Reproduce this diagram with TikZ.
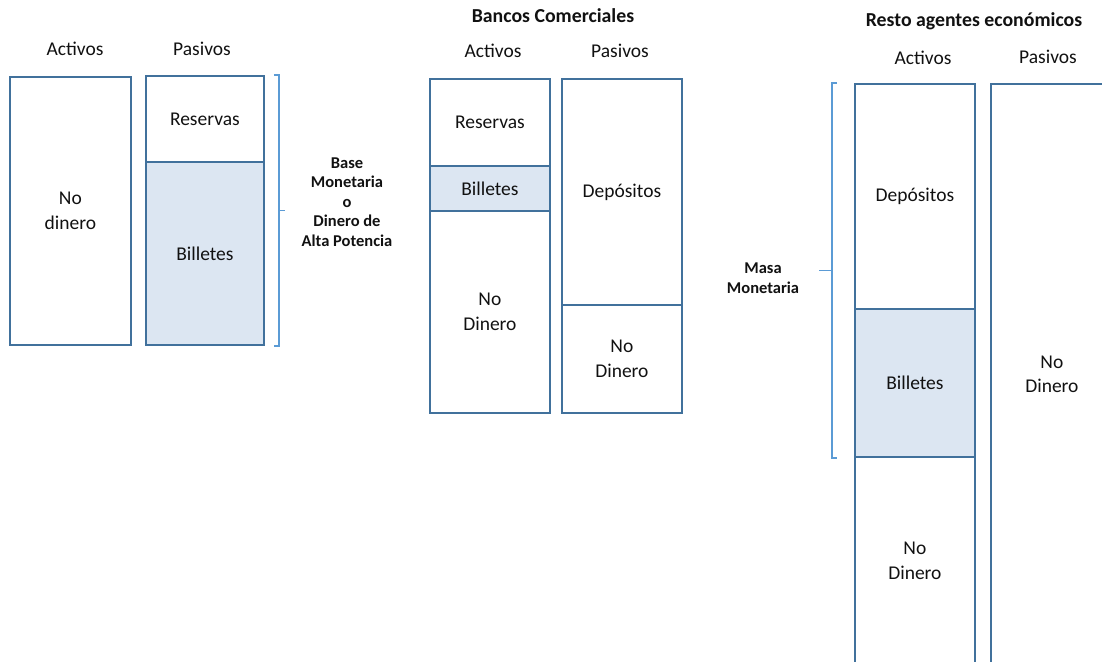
\documentclass[tikz,border=0pt]{standalone}
\usepackage{fontspec}
\setmainfont{Carlito}
\usetikzlibrary{calc}
\definecolor{edge}{HTML}{41719C}
\definecolor{cashfill}{HTML}{DCE6F2}
\definecolor{bracec}{HTML}{5B9BD5}
\definecolor{ink}{HTML}{111111}
\begin{document}
\begin{tikzpicture}[x=1pt,y=-1pt,
  every node/.style={text=ink},
  part/.style={draw=edge, line width=1.8pt, anchor=north west, inner sep=0pt,
               align=center, font=\fontsize{19.5}{24.5}\selectfont},
  cash/.style={part, fill=cashfill},
  head/.style={font=\fontsize{19.5}{24}\selectfont},
  sectitle/.style={font=\bfseries\fontsize{19.8}{24}\selectfont},
  aggr/.style={font=\bfseries\fontsize{16.5}{19.5}\selectfont, align=center},
  brace/.style={draw=bracec, line width=1.5pt}
]
\useasboundingbox (0,0) rectangle (1102,661);
\clip (0,0) rectangle (1102,661);

% Banco central
\node[head] (cbAh) at (75,49) {Activos};
\node[head] (cbPh) at (202,49) {Pasivos};
\node[part, minimum width=121pt, minimum height=268pt] (cbA) at (9,76) {No\\dinero};
\node[part, minimum width=118pt, minimum height=86pt] (cbR) at (145,75) {Reservas};
\node[cash, minimum width=118pt, minimum height=183pt] (cbB) at (145,161) {Billetes};

% Base monetaria
\draw[brace] ([xshift=9pt]cbR.north east) -| ([xshift=14pt]cbB.south east)
  -- ([xshift=9pt]cbB.south east);
\coordinate (bmMid) at ($(cbR.north east)!.5!(cbB.south east)$);
\draw[brace] ([xshift=14pt]bmMid) -- ([xshift=20pt]bmMid);
\node[aggr] (bm) at (347,202) {Base\\Monetaria\\o\\Dinero de\\Alta Potencia};

% Bancos comerciales
\node[sectitle] (bcT) at (553,16) {Bancos Comerciales};
\node[head] (bcAh) at (493,51) {Activos};
\node[head] (bcPh) at (620,51) {Pasivos};
\node[part, minimum width=120pt, minimum height=87pt] (bcR) at (429,78) {Reservas};
\node[cash, minimum width=120pt, minimum height=45pt] (bcB) at (429,165) {Billetes};
\node[part, minimum width=120pt, minimum height=202pt] (bcN) at (429,210) {No\\Dinero};
\node[part, minimum width=120pt, minimum height=226pt] (bcD) at (561,78) {Depósitos};
\node[part, minimum width=120pt, minimum height=108pt] (bcP) at (561,304) {No\\Dinero};

% Resto agentes economicos
\node[sectitle] (raT) at (974,21) {Resto agentes económicos};
\node[head] (raAh) at (923,58) {Activos};
\node[head] (raPh) at (1048,57) {Pasivos};
\node[part, minimum width=120pt, minimum height=225pt] (raD) at (854,83) {Depósitos};
\node[cash, minimum width=120pt, minimum height=148pt] (raB) at (854,308) {Billetes};
\node[part, minimum width=120pt, minimum height=208pt] (raN) at (854,456) {No\\Dinero};
\node[part, minimum width=122pt, minimum height=581pt] (raP) at (990,83) {No\\Dinero};

% Masa monetaria
\draw[brace] ([xshift=-17pt]raD.north west) -| ([xshift=-22pt]raB.south west)
  -- ([xshift=-17pt]raB.south west);
\coordinate (mmMid) at ($(raD.north west)!.5!(raB.south west)$);
\draw[brace] ([xshift=-22pt]mmMid) -- ([xshift=-35pt]mmMid);
\node[aggr] (mm) at (763,278) {Masa\\Monetaria};
\end{tikzpicture}
\end{document}
